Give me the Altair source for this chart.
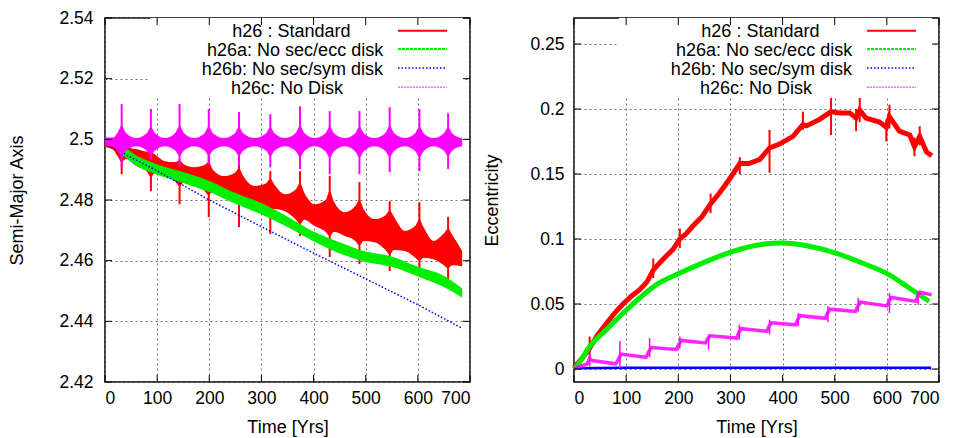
import altair as alt
import pandas as pd

FONT = "Liberation Sans"

# ---------------- labels / ticks ----------------
SERIES = ["h26 : Standard", "h26a: No sec/ecc disk", "h26b: No sec/sym disk", "h26c: No Disk"]
COLORS = ["#ff0000", "#00ee00", "#0000ff", "#ff00ff"]
X_TICKS = [0, 100, 200, 300, 400, 500, 600, 700]
A_TICKS = [2.42, 2.44, 2.46, 2.48, 2.50, 2.52, 2.54]
E_TICKS = [0.0, 0.05, 0.10, 0.15, 0.20, 0.25]

# ---------------- left panel: semi-major axis ----------------
a_t = [0, 16, 24, 32, 40, 60, 80, 88, 96, 115, 135, 143, 151, 171, 191, 199, 207,
       228, 249, 257, 265, 287, 309, 317, 325, 345, 366, 374, 382, 402, 423, 431, 439,
       460, 480, 488, 496, 517, 538, 546, 554, 575, 595, 603, 611, 630, 650, 658, 666, 685]

red_a_lo = [2.4975, 2.4965, 2.4945, 2.4925, 2.4935,
            2.4912, 2.4895, 2.4875, 2.4890,
            2.4885, 2.4860, 2.4845, 2.4858,
            2.4852, 2.4830, 2.4815, 2.4830,
            2.4829, 2.4800, 2.4785, 2.4800,
            2.4796, 2.4770, 2.4755, 2.4770,
            2.4763, 2.4735, 2.4720, 2.4735,
            2.4714, 2.4695, 2.4680, 2.4695,
            2.4681, 2.4665, 2.4650, 2.4665,
            2.4661, 2.4635, 2.4620, 2.4635,
            2.4632, 2.4610, 2.4600, 2.4610,
            2.4605, 2.4585, 2.4575, 2.4585,
            2.4582]
red_a_hi = [2.4992, 2.4990, 2.4992, 2.4990, 2.4975,
            2.4968, 2.4960, 2.4960, 2.4950,
            2.4928, 2.4925, 2.4930, 2.4918,
            2.4908, 2.4915, 2.4925, 2.4900,
            2.4879, 2.4890, 2.4905, 2.4880,
            2.4846, 2.4855, 2.4870, 2.4850,
            2.4819, 2.4835, 2.4855, 2.4825,
            2.4786, 2.4800, 2.4830, 2.4795,
            2.4760, 2.4780, 2.4800, 2.4770,
            2.4737, 2.4750, 2.4765, 2.4745,
            2.4698, 2.4715, 2.4735, 2.4710,
            2.4665, 2.4690, 2.4705, 2.4685,
            2.4632]

pink_a_lo = [2.4980, 2.4976, 2.4962, 2.4945, 2.4962,
             2.4977, 2.4963, 2.4948, 2.4963,
             2.4977, 2.4962, 2.4945, 2.4962,
             2.4977, 2.4963, 2.4946, 2.4963,
             2.4977, 2.4962, 2.4945, 2.4962,
             2.4977, 2.4962, 2.4944, 2.4962,
             2.4977, 2.4961, 2.4942, 2.4961,
             2.4977, 2.4960, 2.4940, 2.4960,
             2.4977, 2.4960, 2.4940, 2.4960,
             2.4977, 2.4961, 2.4942, 2.4961,
             2.4977, 2.4961, 2.4942, 2.4961,
             2.4977, 2.4962, 2.4945, 2.4962,
             2.4978]
pink_a_hi = [2.5004, 2.5006, 2.5022, 2.5045, 2.5022,
             2.5004, 2.5020, 2.5040, 2.5020,
             2.5004, 2.5022, 2.5045, 2.5022,
             2.5004, 2.5020, 2.5042, 2.5020,
             2.5004, 2.5020, 2.5040, 2.5020,
             2.5004, 2.5020, 2.5040, 2.5020,
             2.5004, 2.5022, 2.5045, 2.5022,
             2.5004, 2.5020, 2.5042, 2.5020,
             2.5004, 2.5020, 2.5042, 2.5020,
             2.5004, 2.5022, 2.5045, 2.5022,
             2.5004, 2.5020, 2.5042, 2.5020,
             2.5004, 2.5020, 2.5040, 2.5020,
             2.5003]

burst_t = [32, 88, 143, 199, 257, 317, 374, 431, 488, 546, 603, 658]
red_spk_lo = [2.4885, 2.4829, 2.4786, 2.4744, 2.4711, 2.4688, 2.4681, 2.4612, 2.4589, 2.4566, 2.4572, 2.4539]
red_spk_hi = [2.4995, 2.4965, 2.4935, 2.4951, 2.4935, 2.4895, 2.4895, 2.4879, 2.4859, 2.4796, 2.4793, 2.4744]
pink_spk_lo = [2.4908, 2.4935, 2.4912, 2.4918, 2.4912, 2.4908, 2.4902, 2.4885, 2.4885, 2.4892, 2.4895, 2.4902]
pink_spk_hi = [2.5116, 2.5100, 2.5116, 2.5100, 2.5090, 2.5083, 2.5109, 2.5093, 2.5093, 2.5106, 2.5100, 2.5086]

green_a_t = [0, 20, 30, 40, 50, 100, 150, 200, 250, 300, 350, 400, 450, 500, 550, 600, 650, 685]
green_a_lo = [2.4988, 2.4978, 2.4950, 2.4940, 2.4925, 2.4883, 2.4856, 2.4826, 2.4788, 2.4752,
              2.4711, 2.4664, 2.4624, 2.4596, 2.4580, 2.4548, 2.4513, 2.4478]
green_a_hi = [2.5008, 2.5004, 2.4982, 2.4972, 2.4958, 2.4918, 2.4892, 2.4863, 2.4823, 2.4790,
              2.4745, 2.4696, 2.4661, 2.4630, 2.4614, 2.4580, 2.4550, 2.4508]

blue_a_t = [0, 100, 200, 300, 400, 500, 600, 684]
blue_a = [2.4985, 2.4896, 2.4800, 2.4712, 2.4625, 2.4540, 2.4455, 2.4378]

# ---------------- right panel: eccentricity ----------------
red_e_t = [0, 15, 30, 45, 62, 80, 94, 110, 126, 140, 152, 165, 177, 190, 203, 215, 228, 245, 262,
           280, 298, 318, 335, 356, 375, 394, 420, 439, 446, 471, 493, 509, 529, 541, 548, 560,
           586, 599, 605, 624, 644, 653, 663, 676, 686]
red_e = [0.001, 0.008, 0.016, 0.026, 0.035, 0.044, 0.050, 0.056, 0.061, 0.067, 0.076, 0.082,
         0.087, 0.092, 0.100, 0.104, 0.110, 0.117, 0.127, 0.136, 0.146, 0.158, 0.158, 0.161,
         0.170, 0.173, 0.179, 0.188, 0.187, 0.192, 0.198, 0.197, 0.197, 0.193, 0.199, 0.193,
         0.190, 0.186, 0.194, 0.183, 0.180, 0.171, 0.179, 0.167, 0.164]
red_e_spk_t = [30, 152, 203, 262, 318, 375, 439, 493, 541, 548, 599, 605, 653, 663]
red_e_spk_lo = [0.008, 0.070, 0.093, 0.120, 0.150, 0.151, 0.184, 0.180, 0.183, 0.190, 0.175, 0.185, 0.1636, 0.172]
red_e_spk_hi = [0.025, 0.085, 0.108, 0.135, 0.163, 0.184, 0.198, 0.2085, 0.200, 0.2085, 0.192, 0.2033, 0.178, 0.1867]

green_e_t = [0, 5, 30, 62, 101, 126, 158, 203, 254, 305, 356, 400, 451, 502, 553, 604, 643, 681]
green_e = [0.000, 0.002, 0.0174, 0.0303, 0.0456, 0.0546, 0.0649, 0.0738, 0.0828, 0.0905, 0.0956,
           0.0969, 0.0944, 0.0892, 0.0815, 0.0726, 0.0623, 0.0521]

blue_e_t = [0, 100, 200, 300, 400, 500, 600, 685]
blue_e = [0.0006, 0.0010, 0.0010, 0.0009, 0.0009, 0.0009, 0.0009, 0.0010]

pink_e_t = [0, 25, 30, 35, 80, 86, 90, 138, 143, 148, 196, 201, 206, 252, 256, 261, 312, 316, 321,
            370, 374, 379, 425, 429, 434, 482, 486, 491, 540, 544, 549, 600, 604, 609, 655, 659, 664, 686]
pink_e = [0.000, 0.004, 0.008, 0.0065, 0.004, 0.008, 0.0115, 0.009, 0.013, 0.0165, 0.015, 0.019,
          0.022, 0.020, 0.023, 0.0255, 0.0238, 0.028, 0.031, 0.029, 0.033, 0.0355, 0.034, 0.038,
          0.041, 0.039, 0.043, 0.046, 0.0443, 0.048, 0.0515, 0.0485, 0.052, 0.055, 0.052, 0.056,
          0.059, 0.057]
pink_e_spk_t = [30, 88, 145, 203, 258, 317, 375, 430, 487, 545, 605, 660]
pink_e_spk_lo = [0.002, 0.001, 0.009, 0.0155, 0.015, 0.0225, 0.0265, 0.0328, 0.0362, 0.0443, 0.0431, 0.0495]
pink_e_spk_hi = [0.012, 0.0215, 0.0238, 0.025, 0.0265, 0.0341, 0.038, 0.0431, 0.0482, 0.0546, 0.0585, 0.0598]

# ---------------- layout constants ----------------
W, H = 365, 364
TICK_LEN = 7
LEG_TEXT_CX = [186.4, 190.1, 187.4, 182.0]
LEG_BASE_Y = [18.7, 37.7, 56.7, 75.7]
LEG_LINE_Y = [12.7, 31.0, 50.0, 69.3]
LEG_LINE_X = (293, 342)
LEG_BOX = (45, 0, 358, 79)
LEG_STYLE = [dict(strokeWidth=2),
             dict(strokeWidth=2, strokeDash=[3, 1]),
             dict(strokeWidth=1.5, strokeDash=[1.5, 2]),
             dict(strokeWidth=1.5, strokeDash=[2, 1], opacity=0.6)]

one = pd.DataFrame({"k": [0]})
xs = alt.Scale(domain=[0, 700], nice=False, zero=False)


def panel(ys, yticks, ytitle, specs, y_label_pad, y_title_pad):
    xaxis = alt.Axis(values=X_TICKS, format="d", title="Time [Yrs]", labelOverlap=False,
                     labelPadding=7, titlePadding=12)
    yaxis = alt.Axis(values=yticks, format="~g", title=ytitle, labelOverlap=False,
                     labelPadding=y_label_pad, titlePadding=y_title_pad)
    X = lambda f: alt.X(f, scale=xs, axis=xaxis)
    Y = lambda f: alt.Y(f, scale=ys, axis=yaxis)
    layers = []
    for kind, args, style in specs:
        if kind == "band":
            t, lo, hi = args
            df = pd.DataFrame({"t": t, "lo": lo, "hi": hi})
            layers.append(alt.Chart(df).mark_area(interpolate="monotone", **style).encode(
                x=X("t:Q"), y=Y("lo:Q"), y2="hi:Q"))
        elif kind == "spike":
            t, lo, hi = args
            df = pd.DataFrame({"t": t, "lo": lo, "hi": hi})
            layers.append(alt.Chart(df).mark_rule(**style).encode(
                x=X("t:Q"), y=Y("lo:Q"), y2="hi:Q"))
        else:
            t, v = args
            df = pd.DataFrame({"t": t, "lo": v})
            layers.append(alt.Chart(df).mark_line(**style).encode(x=X("t:Q"), y=Y("lo:Q")))
    # legend background
    layers.append(alt.Chart(one).mark_rect(color="white").encode(
        x=alt.value(LEG_BOX[0]), x2=alt.value(LEG_BOX[2]),
        y=alt.value(LEG_BOX[1]), y2=alt.value(LEG_BOX[3])))
    for i, name in enumerate(SERIES):
        layers.append(alt.Chart(one).mark_text(
            align="center", baseline="alphabetic", font=FONT, fontSize=18, color="black").encode(
            x=alt.value(LEG_TEXT_CX[i]), y=alt.value(LEG_BASE_Y[i]), text=alt.value(name)))
        layers.append(alt.Chart(one).mark_rule(color=COLORS[i], **LEG_STYLE[i]).encode(
            x=alt.value(LEG_LINE_X[0]), x2=alt.value(LEG_LINE_X[1]), y=alt.value(LEG_LINE_Y[i])))
    # inward ticks on all four sides
    xt = pd.DataFrame({"t": X_TICKS})
    yt = pd.DataFrame({"lo": yticks})
    for (y0, y1) in [(H, H - TICK_LEN), (0, TICK_LEN)]:
        layers.append(alt.Chart(xt).mark_rule(color="black", strokeWidth=1).encode(
            x=X("t:Q"), y=alt.value(y0), y2=alt.value(y1)))
    for (x0, x1) in [(0, TICK_LEN), (W - TICK_LEN, W)]:
        layers.append(alt.Chart(yt).mark_rule(color="black", strokeWidth=1).encode(
            y=Y("lo:Q"), x=alt.value(x0), x2=alt.value(x1)))
    return alt.layer(*layers).properties(width=W, height=H)


ys_a = alt.Scale(domain=[2.42, 2.54], nice=False, zero=False)
left_specs = [
    ("band", (a_t, red_a_lo, red_a_hi), dict(color=COLORS[0])),
    ("spike", (burst_t, red_spk_lo, red_spk_hi), dict(color=COLORS[0], strokeWidth=2)),
    ("band", (green_a_t, green_a_lo, green_a_hi), dict(color=COLORS[1])),
    ("line", (blue_a_t, blue_a), dict(color=COLORS[2], strokeWidth=1.5, strokeDash=[1.5, 2])),
    ("band", (a_t, pink_a_lo, pink_a_hi), dict(color=COLORS[3])),
    ("spike", (burst_t, pink_spk_lo, pink_spk_hi), dict(color=COLORS[3], strokeWidth=2)),
]
left = panel(ys_a, A_TICKS, "Semi-Major Axis", left_specs, 12, 32)

ys_e = alt.Scale(domain=[-0.01, 0.27], nice=False, zero=False)
right_specs = [
    ("line", (red_e_t, red_e), dict(color=COLORS[0], strokeWidth=5)),
    ("spike", (red_e_spk_t, red_e_spk_lo, red_e_spk_hi), dict(color=COLORS[0], strokeWidth=2)),
    ("line", (green_e_t, green_e), dict(color=COLORS[1], strokeWidth=5, interpolate="monotone")),
    ("line", (blue_e_t, blue_e), dict(color=COLORS[2], strokeWidth=2.5)),
    ("line", (pink_e_t, pink_e), dict(color=COLORS[3], strokeWidth=3.5, opacity=0.85)),
    ("spike", (pink_e_spk_t, pink_e_spk_lo, pink_e_spk_hi), dict(color=COLORS[3], strokeWidth=1.5)),
]
right = panel(ys_e, E_TICKS, "Eccentricity", right_specs, 10, 28)

chart = alt.hconcat(left, right, spacing=11).properties(padding=0).configure_view(
    stroke="black", strokeWidth=1.5
).configure_axis(
    labelFont=FONT, titleFont=FONT, labelFontSize=17.5, titleFontSize=18,
    titleFontWeight="normal", labelColor="black", titleColor="black",
    domain=False, ticks=False, grid=True, gridColor="#707070", gridDash=[2, 3],
    gridWidth=1, gridOpacity=1
)

chart.save("out.html", embed_options={"renderer": "svg", "actions": False})
